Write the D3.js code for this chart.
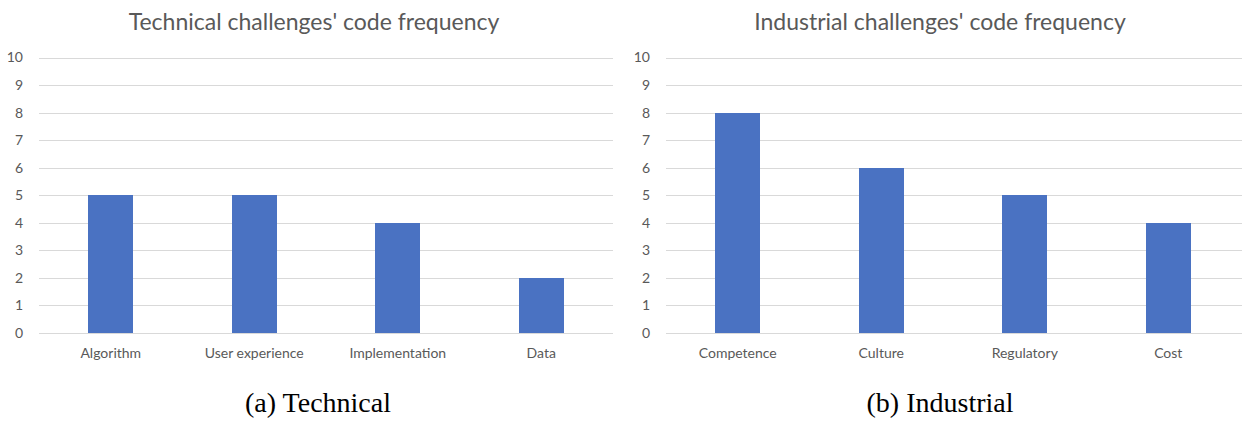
<!DOCTYPE html>
<html>
<head>
<meta charset="utf-8">
<script src="https://cdn.jsdelivr.net/npm/d3@7"></script>
<style>
  body { margin: 0; background: #fff; }
  svg { display: block; }
</style>
</head>
<body>
<div id="charts"></div>
<script>
// data
var techCategories = ["Algorithm", "User experience", "Implementation", "Data"];
var techValues = [5, 5, 4, 2];
var indCategories = ["Competence", "Culture", "Regulatory", "Cost"];
var indValues = [8, 6, 5, 4];
var yTicks = [0, 1, 2, 3, 4, 5, 6, 7, 8, 9, 10];

var W = 1242, H = 421;

var svg = d3.select("#charts")
  .append("svg")
    .attr("width", W)
    .attr("height", H);

var drawChart = function(cfg) {
  var g = svg.append("g");

  // y scale, shared look for both
  var y = d3.scaleLinear()
    .domain([0, 10])
    .range([333, 57.5]);

  // one slot per category, bar sits in the middle of its slot
  var x = d3.scaleBand()
    .domain(cfg.categories)
    .range([cfg.x0, cfg.x1])
    .paddingInner(0.686)
    .paddingOuter(0.343);

  // gridlines
  g.selectAll(".grid")
    .data(yTicks)
    .enter()
    .append("line")
      .attr("x1", cfg.x0)
      .attr("x2", cfg.gridEnd)
      .attr("y1", function(d) { return Math.round(y(d)) + 0.5; })
      .attr("y2", function(d) { return Math.round(y(d)) + 0.5; })
      .style("stroke", "#d9d9d9")
      .style("stroke-width", 1);

  // y axis labels
  var yAxis = g.append("g")
    .attr("transform", "translate(" + cfg.x0 + ",0)")
    .call(d3.axisLeft(y).tickValues(yTicks).tickSize(0).tickPadding(16).tickFormat(d3.format("d")));
  yAxis.select(".domain").remove();
  yAxis.selectAll("text")
    .style("font-family", "Lato, 'Open Sans', sans-serif")
    .style("font-size", "14px")
    .style("fill", "#595959");

  // bars
  g.selectAll(".bar")
    .data(cfg.values)
    .enter()
    .append("rect")
      .attr("x", function(d, i) { return x(cfg.categories[i]); })
      .attr("y", function(d) { return y(d); })
      .attr("width", x.bandwidth())
      .attr("height", function(d) { return y(0) - y(d); })
      .attr("fill", "#4a72c2")
      .style("shape-rendering", "crispEdges");

  // x axis labels
  var xAxis = g.append("g")
    .attr("transform", "translate(0," + y(0) + ")")
    .call(d3.axisBottom(x).tickSize(0).tickPadding(15));
  xAxis.select(".domain").remove();
  xAxis.selectAll("text")
    .style("font-family", "Lato, 'Open Sans', sans-serif")
    .style("font-size", "14px")
    .style("fill", "#595959");

  // chart title
  g.append("text")
    .attr("x", cfg.titleX)
    .attr("y", 30)
    .attr("text-anchor", "middle")
    .style("font-family", "Lato, 'Open Sans', sans-serif")
    .style("font-size", "23px")
    .style("fill", "#595959")
    .text(cfg.title);

  // caption below
  g.append("text")
    .attr("x", cfg.captionX)
    .attr("y", 412)
    .attr("text-anchor", "middle")
    .style("font-family", "'Liberation Serif', 'DejaVu Serif', serif")
    .style("font-size", "28px")
    .style("fill", "#000")
    .text(cfg.caption);
}

drawChart({
  categories: techCategories,
  values: techValues,
  x0: 39, x1: 613, gridEnd: 613,
  titleX: 314,
  title: "Technical challenges' code frequency",
  captionX: 318,
  caption: "(a) Technical"
});

drawChart({
  categories: indCategories,
  values: indValues,
  x0: 666, x1: 1240, gridEnd: 1242,
  titleX: 940,
  title: "Industrial challenges' code frequency",
  captionX: 940,
  caption: "(b) Industrial"
});
</script>
</body>
</html>
